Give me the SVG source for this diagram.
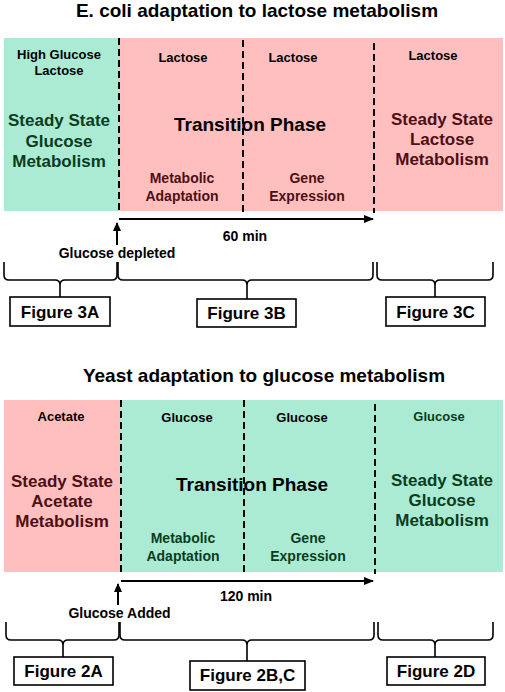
<svg xmlns="http://www.w3.org/2000/svg" width="505" height="692" viewBox="0 0 505 692">
<defs>
<marker id="ah" markerWidth="10" markerHeight="8" refX="9" refY="4" orient="auto" markerUnits="userSpaceOnUse">
<path d="M0,0 L10,4 L0,8 Z" fill="#000"/>
</marker>
<marker id="ahs" markerWidth="9" markerHeight="8" refX="8" refY="4" orient="auto" markerUnits="userSpaceOnUse">
<path d="M0,0 L9,4 L0,8 Z" fill="#000"/>
</marker>
<style>
text{font-family:"Liberation Sans",Arial,sans-serif;font-weight:bold;text-anchor:middle}
.title{font-size:19px;fill:#000}
.small{font-size:13px}
.big{font-size:17px}
.trans{font-size:19px;fill:#000}
.mid{font-size:14px}
.fig{font-size:17px;fill:#000}
.lab{font-size:14px;fill:#000}
.g{fill:#abebd3}
.p{fill:#ffbfbf}
.gt{fill:#0a3d1e}
.pt{fill:#4d0f14}
.bk{fill:#000}
.dash{stroke:#000;stroke-width:2;stroke-dasharray:7,4;fill:none}
.brace{stroke:#000;stroke-width:1.6;fill:none}
.box{fill:#fff;stroke:#000;stroke-width:1.6}
.arr{stroke:#000;stroke-width:2;fill:none}
</style>
</defs>

<!-- Top panel -->
<text class="title" x="257" y="17">E. coli adaptation to lactose metabolism</text>

<g id="top-glucose-ss">
<rect class="g" x="4" y="38" width="115" height="173"/>
<text class="small bk" x="59" y="59">High Glucose</text>
<text class="small bk" x="59" y="75">Lactose</text>
<text class="big gt" x="59" y="126">Steady State</text>
<text class="big gt" x="59" y="147">Glucose</text>
<text class="big gt" x="59" y="167">Metabolism</text>
</g>
<g id="top-transition">
<rect class="p" x="119" y="38" width="255" height="173"/>
<text class="small bk" x="183" y="62">Lactose</text>
<text class="small bk" x="293" y="62">Lactose</text>
<text class="trans" x="250" y="131">Transition Phase</text>
<text class="mid pt" x="182" y="183">Metabolic</text>
<text class="mid pt" x="182" y="201">Adaptation</text>
<text class="mid pt" x="307" y="183">Gene</text>
<text class="mid pt" x="307" y="201">Expression</text>
</g>
<g id="top-lactose-ss">
<rect class="p" x="374" y="38" width="129" height="173"/>
<text class="small bk" x="433" y="60">Lactose</text>
<text class="big pt" x="442" y="125">Steady State</text>
<text class="big pt" x="442" y="145">Lactose</text>
<text class="big pt" x="442" y="165">Metabolism</text>
</g>
<g id="top-fig3a">
<rect class="box" x="10" y="297" width="100" height="29"/>
<text class="fig" x="60" y="318">Figure 3A</text>
</g>
<g id="top-fig3b">
<rect class="box" x="197" y="299" width="99" height="28"/>
<text class="fig" x="246.5" y="319">Figure 3B</text>
</g>
<g id="top-fig3c">
<rect class="box" x="386" y="297" width="99" height="29"/>
<text class="fig" x="435.5" y="318">Figure 3C</text>
</g>
<text class="lab" x="245" y="241">60 min</text>
<text class="lab" x="117" y="258">Glucose depleted</text>

<!-- Bottom panel -->
<text class="title" x="264" y="382">Yeast adaptation to glucose metabolism</text>

<g id="bot-acetate-ss">
<rect class="p" x="4" y="400" width="116" height="172"/>
<text class="small bk" x="61" y="421">Acetate</text>
<text class="big pt" x="62" y="487">Steady State</text>
<text class="big pt" x="62" y="507">Acetate</text>
<text class="big pt" x="62" y="527">Metabolism</text>
</g>
<g id="bot-transition">
<rect class="g" x="120" y="400" width="255" height="172"/>
<text class="small bk" x="187" y="422">Glucose</text>
<text class="small bk" x="302" y="422">Glucose</text>
<text class="trans" x="252" y="491">Transition Phase</text>
<text class="mid gt" x="183" y="543">Metabolic</text>
<text class="mid gt" x="183" y="561">Adaptation</text>
<text class="mid gt" x="308" y="543">Gene</text>
<text class="mid gt" x="308" y="561">Expression</text>
</g>
<g id="bot-glucose-ss">
<rect class="g" x="375" y="400" width="128" height="172"/>
<text class="small gt" x="439" y="421">Glucose</text>
<text class="big gt" x="442" y="486">Steady State</text>
<text class="big gt" x="442" y="506">Glucose</text>
<text class="big gt" x="442" y="526">Metabolism</text>
</g>
<g id="bot-fig2a">
<rect class="box" x="14" y="657" width="99" height="28"/>
<text class="fig" x="63.5" y="677">Figure 2A</text>
</g>
<g id="bot-fig2bc">
<rect class="box" x="190" y="661" width="115" height="29"/>
<text class="fig" x="247.5" y="681">Figure 2B,C</text>
</g>
<g id="bot-fig2d">
<rect class="box" x="387" y="657" width="98" height="28"/>
<text class="fig" x="436" y="677">Figure 2D</text>
</g>
<text class="lab" x="246" y="601">120 min</text>
<text class="lab" x="119.5" y="618">Glucose Added</text>

<g id="connectors">
<!-- top dashed dividers -->
<line class="dash" x1="119" y1="38" x2="119" y2="212"/>
<line class="dash" x1="243" y1="40" x2="243" y2="212"/>
<line class="dash" x1="374" y1="43" x2="374" y2="213"/>
<!-- top arrows -->
<line class="arr" x1="119" y1="219" x2="373" y2="219" marker-end="url(#ah)"/>
<line class="arr" x1="117" y1="245" x2="117" y2="223" marker-end="url(#ahs)"/>
<!-- top braces -->
<path class="brace" d="M4,262 L4,275 Q4,280 9,280 L55,280 Q60,280 60,285 L60,297 M60,285 Q60,280 65,280 L112,280 Q117,280 117,275 L117,262"/>
<path class="brace" d="M118,262 L118,275 Q118,280 123,280 L242,280 Q247,280 247,285 L247,299 M247,285 Q247,280 252,280 L368,280 Q373,280 373,275 L373,262"/>
<path class="brace" d="M377,262 L377,275 Q377,280 382,280 L430,280 Q435,280 435,285 L435,297 M435,285 Q435,280 440,280 L488,280 Q493,280 493,275 L493,262"/>

<!-- bottom dashed dividers -->
<line class="dash" x1="121" y1="400" x2="121" y2="573"/>
<line class="dash" x1="244" y1="400" x2="244" y2="573"/>
<line class="dash" x1="375" y1="404" x2="375" y2="574"/>
<!-- bottom arrows -->
<line class="arr" x1="121" y1="581" x2="373" y2="581" marker-end="url(#ah)"/>
<line class="arr" x1="118" y1="605" x2="118" y2="584" marker-end="url(#ahs)"/>
<!-- bottom braces -->
<path class="brace" d="M6,622 L6,635 Q6,640 11,640 L58,640 Q63,640 63,645 L63,657 M63,645 Q63,640 68,640 L114,640 Q119,640 119,635 L119,622"/>
<path class="brace" d="M120,622 L120,635 Q120,640 125,640 L242,640 Q247,640 247,645 L247,661 M247,645 Q247,640 252,640 L369,640 Q374,640 374,635 L374,622"/>
<path class="brace" d="M378,622 L378,635 Q378,640 383,640 L430,640 Q435,640 435,645 L435,657 M435,645 Q435,640 440,640 L488,640 Q493,640 493,635 L493,622"/>
</g>
</svg>
